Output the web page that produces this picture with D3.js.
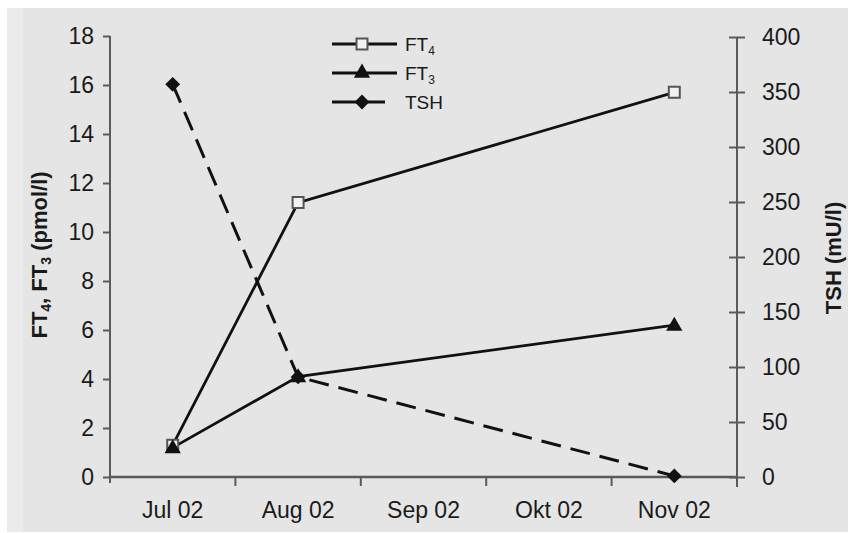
<!DOCTYPE html>
<html><head><meta charset="utf-8">
<script src="https://cdn.jsdelivr.net/npm/d3@7"></script>
<style>body{margin:0;background:#fff}svg{display:block}text{font-family:"Liberation Sans",Arial,sans-serif;fill:#1a1a1a}</style>
</head><body><svg id="c" width="851" height="533"></svg>
<script>
const months = ["Jul 02","Aug 02","Sep 02","Okt 02","Nov 02"];
const ft4 = [{m:"Jul 02",v:1.3},{m:"Aug 02",v:11.2},{m:"Nov 02",v:15.7}];
const ft3 = [{m:"Jul 02",v:1.2},{m:"Aug 02",v:4.1},{m:"Nov 02",v:6.2}];
const tsh = [{m:"Jul 02",v:357},{m:"Aug 02",v:91},{m:"Nov 02",v:1}];
const leftTicks = [0,2,4,6,8,10,12,14,16,18];
const rightTicks = [0,50,100,150,200,250,300,350,400];
const legendItems = ["FT4","FT3","TSH"];

const svg = d3.select("#c");
svg.append("rect").attr("x",7).attr("y",8).attr("width",841).attr("height",524).attr("fill","#ebebeb");
svg.append("rect").attr("x",23).attr("y",8).attr("width",825).attr("height",524).attr("fill","#e5e5e5");

const L=110,R=737,T=36,B=477;
const x = d3.scaleBand().domain(months).range([L,R]).padding(0);
const yL = d3.scaleLinear().domain([0,18]).range([B,T]);
const yR = d3.scaleLinear().domain([0,400]).range([B,T+1]);
const cx = m => x(m)+x.bandwidth()/2;
const axisColor="#5a5a5a";
const fs = 23;

// left axis
const gl = svg.append("g").attr("transform",`translate(${L},0)`)
  .call(d3.axisLeft(yL).tickValues(leftTicks).tickSize(7).tickSizeOuter(0).tickPadding(9));
gl.select(".domain").attr("stroke",axisColor).attr("stroke-width",2).attr("d",`M0,${T}V${B+6}`);
gl.selectAll(".tick line").attr("stroke",axisColor).attr("stroke-width",2);
gl.selectAll(".tick text").attr("font-size",fs).style("fill","#1a1a1a");

// right axis
const gr = svg.append("g").attr("transform",`translate(${R},0)`)
  .call(d3.axisRight(yR).tickValues(rightTicks).tickSize(8).tickSizeOuter(0).tickPadding(17));
gr.select(".domain").attr("stroke",axisColor).attr("stroke-width",2).attr("d",`M0,${T+1}V${B+10}`);
gr.selectAll(".tick line").attr("stroke",axisColor).attr("stroke-width",2).attr("x1",-8);
gr.selectAll(".tick text").attr("font-size",fs).style("fill","#1a1a1a");

// bottom axis
const gb = svg.append("g").attr("transform",`translate(0,${B})`)
  .call(d3.axisBottom(x).tickSize(0).tickPadding(25));
gb.select(".domain").attr("stroke",axisColor).attr("stroke-width",2.5).attr("d",`M${L},0H${R}`);
gb.selectAll(".tick text").attr("font-size",fs).style("fill","#1a1a1a");
const bounds = months.slice(1).map(m=>x(m));
gb.selectAll(".btick").data(bounds).enter().append("line")
  .attr("x1",d=>d).attr("x2",d=>d).attr("y1",0).attr("y2",9)
  .attr("stroke",axisColor).attr("stroke-width",2);

// axis titles
svg.append("text").attr("transform",`translate(47,255) rotate(-90)`).attr("text-anchor","middle")
  .attr("font-size",22).attr("font-weight","bold")
  .html('FT<tspan font-size="14" dy="4">4</tspan><tspan dy="-4">, FT</tspan><tspan font-size="14" dy="4">3</tspan><tspan dy="-4"> (pmol/l)</tspan>');
svg.append("text").attr("transform",`translate(841,258) rotate(-90)`).attr("text-anchor","middle")
  .attr("font-size",22).attr("font-weight","bold").text("TSH (mU/l)");

// lines
const lineL = d3.line().x(d=>cx(d.m)).y(d=>yL(d.v));
const lineR = d3.line().x(d=>cx(d.m)).y(d=>yR(d.v));
svg.append("path").datum(tsh).attr("d",lineR).attr("fill","none").attr("stroke","#111").attr("stroke-width",3).attr("stroke-dasharray","20,10");
svg.append("path").datum(ft4).attr("d",lineL).attr("fill","none").attr("stroke","#111").attr("stroke-width",2.8);
svg.append("path").datum(ft3).attr("d",lineL).attr("fill","none").attr("stroke","#111").attr("stroke-width",2.8);

const sq = d3.symbol().type(d3.symbolSquare).size(120);
const tri = d3.symbol().type(d3.symbolTriangle).size(115);
const dia = d3.symbol().type(d3.symbolSquare).size(110);
svg.selectAll(".tsh").data(tsh).enter().append("path").attr("d",dia)
  .attr("transform",d=>`translate(${cx(d.m)},${yR(d.v)}) rotate(45)`).attr("fill","#111");
svg.selectAll(".ft4").data(ft4).enter().append("path").attr("d",sq)
  .attr("transform",d=>`translate(${cx(d.m)},${yL(d.v)})`).attr("fill","#f2f2f2").attr("stroke","#555").attr("stroke-width",2);
svg.selectAll(".ft3").data(ft3).enter().append("path").attr("d",tri)
  .attr("transform",d=>`translate(${cx(d.m)},${yL(d.v)+1})`).attr("fill","#111");

// legend
const ly=[44,73,102];
const lg = svg.append("g");
legendItems.forEach((k,i)=>{
  const y=ly[i];
  const x2 = k==="TSH"?385:397;
  lg.append("line").attr("x1",332).attr("x2",x2).attr("y1",y).attr("y2",y)
    .attr("stroke","#111").attr("stroke-width",2.8);
  const sym = k==="FT4"?sq:(k==="FT3"?tri:dia);
  const p = lg.append("path").attr("d",sym).attr("transform",`translate(362,${y})${k==="TSH"?" rotate(45)":""}`);
  if(k==="FT4") p.attr("fill","#f2f2f2").attr("stroke","#555").attr("stroke-width",2);
  else p.attr("fill","#111");
  const t = lg.append("text").attr("x",405).attr("y",y+7).attr("font-size",19);
  if(k==="TSH") t.text("TSH");
  else t.html(`FT<tspan font-size="12" dy="4">${k.slice(2)}</tspan>`);
});
</script></body></html>
